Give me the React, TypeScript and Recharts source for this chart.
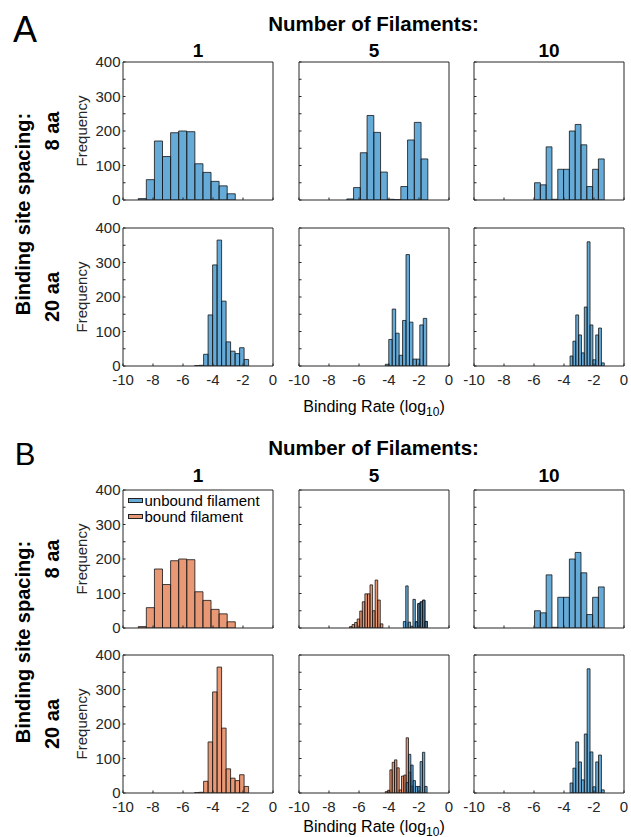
import React from 'react';
import { Bar, ComposedChart, Legend, Rectangle, XAxis, YAxis } from 'recharts';

const BLUE = '#0072BD';
const ORANGE = '#D95319';
const INK = '#262626';
const FONT = '"Liberation Sans", Arial, Helvetica, sans-serif';

const xTicks = [-10, -8, -6, -4, -2, 0];
const yTicks = [0, 50, 100, 150, 200, 250, 300, 350, 400];
const filamentLabels = ['1', '5', '10'];
const spacingLabels = ['8 aa', '20 aa'];
const seriesNames = ['unbound filament', 'bound filament'];

// histogram counts; each *Bins is [first bin edge, bin width]
const fil1Aa8 = [4, 59, 171, 126, 195, 200, 198, 105, 80, 54, 41, 18];
const fil1Aa8Bins = [-8.98, 0.539];
const fil5Aa8 = [3, 36, 137, 245, 196, 81, 2, 1, 39, 174, 225, 119];
const fil5Aa8Bins = [-6.82, 0.45];
const fil10Aa8 = [50, 44, 154, 2, 89, 89, 200, 219, 160, 39, 89, 119];
const fil10Aa8Bins = [-5.97, 0.387];
const fil1Aa20 = [1, 2, 34, 148, 293, 365, 188, 70, 43, 36, 53, 19];
const fil1Aa20Bins = [-5.21, 0.3];
const fil5Aa20 = [5, 77, 165, 95, 31, 132, 323, 127, 20, 20, 119, 138];
const fil5Aa20Bins = [-4.23, 0.23];
const fil10Aa20 = [29, 72, 148, 90, 38, 171, 360, 119, 18, 90, 110, 9];
const fil10Aa20Bins = [-3.6, 0.19];

// panel B, 5 filaments, split into bound / unbound
const b5Aa8Bound = [4, 10, 16, 26, 49, 76, 99, 99, 125, 50, 139, 81, 12];
const b5Aa8BoundBins = [-6.62, 0.171];
const b5Aa8BoundTail = [18, 70, 75, 80, 19];
const b5Aa8BoundTailBins = [-2.23, 0.16];
const b5Aa8Unbound = [19, 122, 17, 5, 83, 18, 71, 76, 81, 19];
const b5Aa8UnboundBins = [-3.03, 0.16];
const b5Aa20Bound = [4, 8, 67, 89, 96, 73, 9, 49, 52, 160, 60, 20];
const b5Aa20BoundBins = [-4.24, 0.155];
const b5Aa20Unbound = [30, 112, 81, 36, 19, 19, 91, 118, 19];
const b5Aa20UnboundBins = [-2.845, 0.155];

type Row = { x: number; w: number; bound?: number; unbound?: number };

const toRows = (counts: number[], bins: number[], key: 'bound' | 'unbound'): Row[] =>
  counts.map((c, i) => ({ x: bins[0] + (i + 0.5) * bins[1], w: bins[1], [key]: c }));

const PLOT_W = 150;
const PLOT_H = 138;
const PX_PER_UNIT = PLOT_W / 10;
const COL_LEFT = [123, 299, 474];
const ROW_TOP_A = [62, 228];
const ROW_TOP_B = [490, 655];
const PAD_TOP = 9;
const PAD_RIGHT = 6;

const panelsA: Row[][][] = [
  [toRows(fil1Aa8, fil1Aa8Bins, 'unbound'), toRows(fil5Aa8, fil5Aa8Bins, 'unbound'), toRows(fil10Aa8, fil10Aa8Bins, 'unbound')],
  [toRows(fil1Aa20, fil1Aa20Bins, 'unbound'), toRows(fil5Aa20, fil5Aa20Bins, 'unbound'), toRows(fil10Aa20, fil10Aa20Bins, 'unbound')],
];

const panelsB: Row[][][] = [
  [
    toRows(fil1Aa8, fil1Aa8Bins, 'bound'),
    [
      ...toRows(b5Aa8Bound, b5Aa8BoundBins, 'bound'),
      ...toRows(b5Aa8BoundTail, b5Aa8BoundTailBins, 'bound'),
      ...toRows(b5Aa8Unbound, b5Aa8UnboundBins, 'unbound'),
    ],
    toRows(fil10Aa8, fil10Aa8Bins, 'unbound'),
  ],
  [
    toRows(fil1Aa20, fil1Aa20Bins, 'bound'),
    [...toRows(b5Aa20Bound, b5Aa20BoundBins, 'bound'), ...toRows(b5Aa20Unbound, b5Aa20UnboundBins, 'unbound')],
    toRows(fil10Aa20, fil10Aa20Bins, 'unbound'),
  ],
];

// bar drawn centred where recharts puts it, but as wide as its histogram bin
const binShape = (color: string) => (p: any) => {
  if (!p.height || !p.payload) return <g />;
  const w = p.payload.w * PX_PER_UNIT;
  const cx = p.x + p.width / 2;
  return (
    <Rectangle x={cx - w / 2} y={p.y} width={w} height={p.height} fill={color} fillOpacity={0.6} stroke="#151515" strokeWidth={0.8} />
  );
};

const LegendBox = () => (
  <div style={{ fontFamily: FONT, fontSize: 15, color: '#000' }}>
    {seriesNames.map((name, i) => (
      <div key={name} style={{ display: 'flex', alignItems: 'center', height: 16, whiteSpace: 'nowrap' }}>
        <span
          style={{
            display: 'inline-block',
            width: 13,
            height: 3,
            marginRight: 2,
            border: '1px solid #222',
            background: i === 0 ? '#66AAD7' : '#E89875',
          }}
        />
        <span>{name}</span>
      </div>
    ))}
  </div>
);

function Panel({ left, top, rows, firstCol, bottomRow, legend }: { left: number; top: number; rows: Row[]; firstCol: boolean; bottomRow: boolean; legend?: boolean }) {
  const yW = firstCol ? 50 : 14;
  const xH = bottomRow ? 30 : 9;
  const tickStyle = { fontSize: 15, fill: INK, fontFamily: FONT };
  return (
    <div style={{ position: 'absolute', left: left - yW, top: top - 1 - PAD_TOP }}>
      <ComposedChart
        width={yW + PLOT_W + 1 + PAD_RIGHT}
        height={PAD_TOP + 1 + PLOT_H + xH}
        data={rows}
        margin={{ top: PAD_TOP, right: PAD_RIGHT, bottom: 0, left: 0 }}
        barCategoryGap={0}
        barGap={0}
      >
        <XAxis type="number" dataKey="x" domain={[-10, 0]} ticks={xTicks} interval={0} allowDataOverflow height={xH} stroke={INK} tickSize={-2.5} tickMargin={11} tick={tickStyle} tickFormatter={(v) => (bottomRow ? String(v) : '')} />
        <XAxis xAxisId="top" orientation="top" type="number" domain={[-10, 0]} ticks={xTicks} interval={0} allowDataOverflow height={1} stroke={INK} tickSize={-2.5} tick={false} />
        <YAxis
          type="number"
          domain={[0, 400]}
          ticks={yTicks}
          interval={0}
          allowDataOverflow
          width={yW}
          stroke={INK}
          tickSize={-2.5}
          tickMargin={5}
          tick={tickStyle}
          tickFormatter={(v) => (firstCol && v % 100 === 0 ? String(v) : '')}
          label={firstCol ? { value: 'Frequency', angle: -90, position: 'insideLeft', offset: 9, style: { textAnchor: 'middle', fontSize: 15, fill: INK, fontFamily: FONT } } : undefined}
        />
        <YAxis yAxisId="right" orientation="right" type="number" domain={[0, 400]} ticks={yTicks} interval={0} allowDataOverflow width={1} stroke={INK} tickSize={-2.5} tick={false} />
        <Bar dataKey="bound" stackId="h" isAnimationActive={false} shape={binShape(ORANGE)} />
        <Bar dataKey="unbound" stackId="h" isAnimationActive={false} shape={binShape(BLUE)} />
        {legend && <Legend layout="vertical" align="center" verticalAlign="middle" wrapperStyle={{ left: yW + 4.5, top: PAD_TOP + 3.5, width: 'auto', height: 'auto' }} content={() => <LegendBox />} />}
      </ComposedChart>
    </div>
  );
}

function Text({ x, y, size, bold, rotate, children }: { x: number; y: number; size: number; bold?: boolean; rotate?: boolean; children: React.ReactNode }) {
  return (
    <div
      style={{
        position: 'absolute',
        left: x,
        top: y,
        transform: `translate(-50%, -50%)${rotate ? ' rotate(-90deg)' : ''}`,
        fontSize: size,
        fontWeight: bold ? 'bold' : 'normal',
        lineHeight: 1,
        whiteSpace: 'nowrap',
        color: '#000',
      }}
    >
      {children}
    </div>
  );
}

function Section({ letter, letterSize, rowTops, panels, titleY, headY, rateY }: { letter: string; letterSize: number; rowTops: number[]; panels: Row[][][]; titleY: number; headY: number; rateY: number }) {
  const midY = (rowTops[0] + rowTops[1] + PLOT_H) / 2;
  return (
    <>
      <Text x={25} y={titleY + 6} size={letterSize}>{letter}</Text>
      <Text x={373.5} y={titleY} size={20.5} bold>Number of Filaments:</Text>
      {filamentLabels.map((f, c) => (
        <Text key={f} x={COL_LEFT[c] + PLOT_W / 2} y={headY} size={19} bold>{f}</Text>
      ))}
      <Text x={22.5} y={midY} size={20} bold rotate>Binding site spacing:</Text>
      {spacingLabels.map((s, r) => (
        <Text key={s} x={52} y={rowTops[r] + PLOT_H / 2} size={20} bold rotate>{s}</Text>
      ))}
      {panels.map((row, r) =>
        row.map((rows, c) => (
          <Panel key={`${r}-${c}`} left={COL_LEFT[c]} top={rowTops[r]} rows={rows} firstCol={c === 0} bottomRow={r === 1} legend={letter === 'B' && r === 0 && c === 0} />
        ))
      )}
      <Text x={374} y={rateY} size={16}>
        Binding Rate (log<span style={{ fontSize: 12, position: 'relative', top: 4 }}>10</span>)
      </Text>
    </>
  );
}

export default function App() {
  return (
    <div style={{ position: 'absolute', left: 0, top: 0, width: 631, height: 837, background: '#fff', fontFamily: FONT, overflow: 'hidden' }}>
      <Section letter="A" letterSize={36} rowTops={ROW_TOP_A} panels={panelsA} titleY={24} headY={50} rateY={406.5} />
      <Section letter="B" letterSize={31} rowTops={ROW_TOP_B} panels={panelsB} titleY={448} headY={475} rateY={826.5} />
    </div>
  );
}
